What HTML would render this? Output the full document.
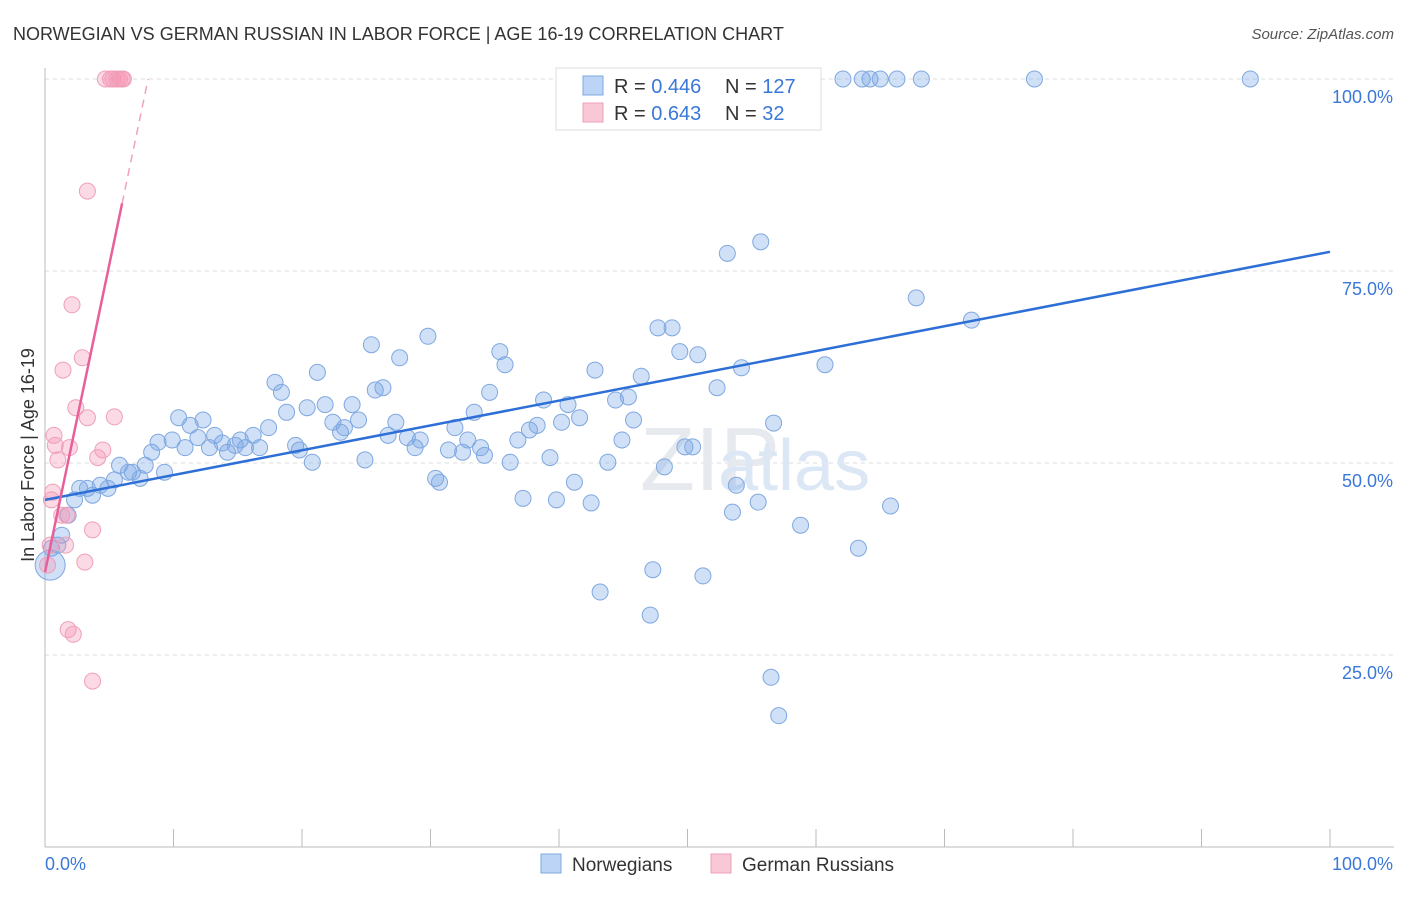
<!DOCTYPE html>
<html><head><meta charset="utf-8"><style>
body{margin:0;background:#fff;font-family:"Liberation Sans",sans-serif;}
svg text{font-family:"Liberation Sans",sans-serif;}
</style></head><body>
<svg id="chart" width="1406" height="892">
<text x="13" y="40" font-size="18" fill="#333">NORWEGIAN VS GERMAN RUSSIAN IN LABOR FORCE | AGE 16-19 CORRELATION CHART</text>
<text x="1394" y="39" font-size="15" fill="#555" font-style="italic" text-anchor="end">Source: ZipAtlas.com</text>
<g id="grid"></g>
<g id="axes"></g>
<text x="640" y="490" font-size="90" fill="#e6eaee" font-family="Liberation Serif">ZIP</text>
<text x="718" y="490" font-size="72" fill="#dbe7f5">atlas</text>
<g id="pts"></g>
<g id="lines"></g>
<text transform="translate(34,455) rotate(-90)" font-size="18" fill="#333" text-anchor="middle">In Labor Force | Age 16-19</text>
<g>
<rect x="556" y="68" width="265" height="62" fill="#fff" stroke="#ddd"/>
<rect x="583" y="76" width="20" height="19" fill="#bcd4f5" stroke="#7fa8e0"/>
<rect x="583" y="103" width="20" height="19" fill="#f8c8d6" stroke="#eea0b8"/>
<text x="614" y="93" font-size="20" fill="#333">R = <tspan fill="#3a78d8">0.446</tspan></text>
<text x="725" y="93" font-size="20" fill="#333">N = <tspan fill="#3a78d8">127</tspan></text>
<text x="614" y="120" font-size="20" fill="#333">R = <tspan fill="#3a78d8">0.643</tspan></text>
<text x="725" y="120" font-size="20" fill="#333">N = <tspan fill="#3a78d8"> 32</tspan></text>
</g>
<g>
<rect x="541" y="854" width="20" height="19" fill="#bcd4f5" stroke="#7fa8e0"/>
<text x="572" y="871" font-size="19" fill="#333">Norwegians</text>
<rect x="711" y="854" width="20" height="19" fill="#f8c8d6" stroke="#eea0b8"/>
<text x="742" y="871" font-size="19" fill="#333">German Russians</text>
</g>
</svg>
<script>
const blueX=[0.4,0.5,1.0,1.3,1.8,2.3,2.7,3.3,3.7,4.3,4.9,5.4,5.8,6.5,6.8,7.4,7.8,8.3,8.8,9.3,9.9,10.4,10.9,11.3,11.9,12.3,12.8,13.2,13.8,14.2,14.8,15.2,15.6,16.2,16.7,17.4,17.9,18.4,18.8,19.5,19.8,20.4,20.8,21.2,21.8,22.4,23.0,23.3,23.9,24.4,24.9,25.4,25.7,26.3,26.7,27.3,28.2,28.8,29.2,27.6,29.8,30.4,30.7,31.4,31.9,32.5,32.9,33.4,33.9,34.2,34.6,35.4,35.8,36.2,36.8,37.2,37.7,38.3,38.8,39.3,39.8,40.2,40.7,41.2,41.6,42.5,42.8,43.2,43.8,44.4,44.9,45.4,45.8,46.4,47.1,47.3,47.7,48.2,48.8,49.4,49.8,50.4,50.8,51.2,52.3,53.1,53.5,53.8,54.2,55.5,55.7,56.5,56.7,57.1,58.8,60.7,63.3,65.8,67.8,72.1,57.7,62.1,63.6,64.2,65.0,66.3,68.2,77.0,93.8];
const blueY=[36.7,38.9,39.3,40.6,43.2,45.2,46.7,46.7,45.8,47.1,46.7,47.8,49.7,48.8,48.8,48.0,49.7,51.4,52.7,48.8,53.0,55.9,52.0,54.9,53.3,55.6,52.0,53.6,52.6,51.4,52.3,53.0,52.0,53.6,52.0,54.6,60.5,59.2,56.6,52.3,51.7,57.2,50.1,61.8,57.6,55.3,54.0,54.6,57.6,55.6,50.4,65.4,59.5,59.8,53.6,55.3,53.3,52.0,53.0,63.7,66.5,48.0,47.5,51.7,54.6,51.4,53.0,56.6,52.0,51.0,59.2,64.5,62.8,50.1,53.0,45.4,54.3,54.9,58.2,50.7,45.2,55.3,57.6,47.5,55.9,44.8,62.1,33.2,50.1,58.2,53.0,58.6,55.6,61.3,30.2,36.1,67.6,49.5,67.6,64.5,52.1,52.1,64.1,35.3,59.8,77.3,43.6,47.1,62.4,44.9,78.8,22.1,55.2,17.1,41.9,62.8,38.9,44.4,71.5,68.6,100,100,100,100,100,100,100,100,100];
const pinkX=[0.2,0.4,0.5,0.6,0.7,0.8,1.0,1.3,1.4,1.6,1.7,1.8,1.9,2.2,2.1,2.4,2.9,3.1,3.3,3.3,3.7,3.7,4.1,4.5,5.4,4.7,5.1,5.3,5.6,5.8,6.0,6.1];
const pinkY=[36.7,39.3,45.2,46.2,53.6,52.3,50.4,43.2,62.1,39.3,43.2,28.3,52.0,27.7,70.6,57.2,63.7,37.1,55.9,85.4,21.6,41.3,50.7,51.7,56.0,100,100,100,100,100,100,100];
const blueLine=[45.2,77.5];
const pinkLine=[35.8,8.0];
const yTicks=[25,50,75,100];
const xTicks=[0,10,20,30,40,50,60,70,80,90,100];
const NS='http://www.w3.org/2000/svg';
const sx=v=>45+v*12.85, sy=v=>847-v*7.68;
function mk(tag,attrs,parent){const e=document.createElementNS(NS,tag);for(const k in attrs)e.setAttribute(k,attrs[k]);parent.appendChild(e);return e;}
const grid=document.getElementById('grid'),axes=document.getElementById('axes'),pts=document.getElementById('pts'),lines=document.getElementById('lines');
yTicks.forEach(t=>{
 const l=mk('line',{x1:45,x2:1394,y1:sy(t),y2:sy(t),stroke:'#ddd','stroke-dasharray':'4,4'},grid);
 
 
 const tx=mk('text',{x:1393,y:sy(t)+24,'font-size':18,fill:'#3a78d8','text-anchor':'end'},axes);
 tx.textContent=t.toFixed(1)+'%';
 
 
});
let a=mk('line',{x1:45,x2:45,y1:68,y2:847,stroke:'#bbb'},axes);


a=mk('line',{x1:45,x2:1394,y1:847,y2:847,stroke:'#bbb'},axes);


xTicks.forEach(t=>{
 const l=mk('line',{x1:sx(t),x2:sx(t),y1:829,y2:847,stroke:'#bbb'},axes);
 
 
});
let t0=mk('text',{x:45,y:870,'font-size':18,fill:'#3a78d8'},axes);t0.textContent='0.0%';


let t1=mk('text',{x:1393,y:870,'font-size':18,fill:'#3a78d8','text-anchor':'end'},axes);t1.textContent='100.0%';


blueX.forEach((x,i)=>{
 const c=mk('circle',{cx:sx(x),cy:sy(blueY[i]),r:i===0?15:8,fill:'rgba(120,165,230,0.35)',stroke:'#7fa8e0','stroke-width':1},pts);
 
 
});
pinkX.forEach((x,i)=>{
 const c=mk('circle',{cx:sx(x),cy:sy(pinkY[i]),r:8,fill:'rgba(245,150,180,0.35)',stroke:'#eea0b8','stroke-width':1},pts);
 
 
});
let bl=mk('line',{x1:sx(0),y1:sy(blueLine[0]),x2:sx(100),y2:sy(blueLine[1]),stroke:'#2d6fd6','stroke-width':2.5},lines);


const pf=x=>pinkLine[0]+pinkLine[1]*x;
let pl=mk('line',{x1:sx(0),y1:sy(pf(0)),x2:sx(6),y2:sy(pf(6)),stroke:'#e8609a','stroke-width':2.5},lines);


const xe=(100-pinkLine[0])/pinkLine[1];
let pd=mk('line',{x1:sx(6),y1:sy(pf(6)),x2:sx(xe),y2:sy(100),stroke:'#f0a0c0','stroke-width':1.5,'stroke-dasharray':'8,6'},lines);


</script>
</body></html>
